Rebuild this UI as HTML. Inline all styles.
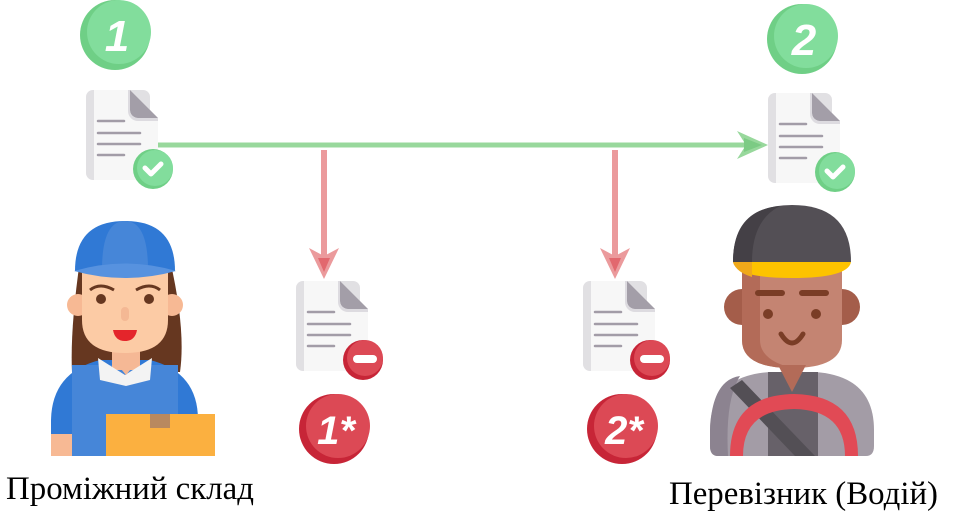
<!DOCTYPE html>
<html><head><meta charset="utf-8"><style>html,body{margin:0;padding:0;background:#fff;width:959px;height:521px;overflow:hidden}</style></head>
<body>
<svg width="959" height="521" viewBox="0 0 959 521" xmlns="http://www.w3.org/2000/svg">
<defs>
<g id="doc">
<rect x="0" y="0" width="64" height="90" rx="7" fill="#e1e0e3"/>
<path d="M8 0 H44 L72 28 V83 a7 7 0 0 1 -7 7 H8 a2 2 0 0 1 0 0 Z" fill="#f7f7f7"/>
<path d="M44 0 L72 28 H52 a8 8 0 0 1 -8 -8 Z" fill="#a39ea8"/>
<path d="M44 20 a8 8 0 0 0 8 8 H72 L72 31 H52 a10 10 0 0 1 -10 -10 V0 H44Z" fill="#dddbe0"/>
<g stroke="#a29ca7" stroke-width="2.5" stroke-linecap="round">
<line x1="12" y1="31" x2="38" y2="31"/><line x1="12" y1="43" x2="54" y2="43"/>
<line x1="12" y1="54" x2="54" y2="54"/><line x1="12" y1="65" x2="38" y2="65"/></g>
</g>
</defs>
<line x1="158" y1="145" x2="752" y2="145" stroke="#98d89c" stroke-width="5"/>
<path d="M737 131 L768 145 L737 159 L746 145Z" fill="#98d89c"/>
<path d="M744 138 L762 145 L744 152Z" fill="#7ccb84"/>
<g fill="#eb9a9c"><rect x="321" y="150" width="6" height="110"/><rect x="612" y="150" width="6" height="110"/>
<path d="M309 248 L324 279 L339 248 L324 256Z"/><path d="M600 248 L615 279 L630 248 L615 256Z"/></g>
<g fill="#e2686e"><path d="M318 258 L324 272 L330 258Z"/><path d="M609 258 L615 272 L621 258Z"/></g>
<use href="#doc" x="86" y="90"/>
<use href="#doc" x="768" y="93"/>
<use href="#doc" x="296" y="281"/>
<use href="#doc" x="583" y="281"/>
<g><circle cx="153" cy="169" r="20" fill="#6fcf86"/><circle cx="155" cy="168" r="18" fill="#82dd9c"/>
<path d="M145 168 l6 6 l10 -10" stroke="#fff" stroke-width="5" fill="none" stroke-linecap="round" stroke-linejoin="round"/></g>
<g><circle cx="835" cy="172" r="20" fill="#6fcf86"/><circle cx="837" cy="171" r="18" fill="#82dd9c"/>
<path d="M827 171 l6 6 l10 -10" stroke="#fff" stroke-width="5" fill="none" stroke-linecap="round" stroke-linejoin="round"/></g>
<g><circle cx="363" cy="360" r="20" fill="#c72537"/><circle cx="365" cy="358" r="18" fill="#dc4955"/>
<rect x="353" y="355" width="24" height="8" rx="4" fill="#fff"/></g>
<g><circle cx="650" cy="360" r="20" fill="#c72537"/><circle cx="652" cy="358" r="18" fill="#dc4955"/>
<rect x="640" y="355" width="24" height="8" rx="4" fill="#fff"/></g>
<g font-family="Liberation Sans, sans-serif" font-weight="bold" font-style="italic" fill="#fff" text-anchor="middle">
<circle cx="115" cy="35" r="35" fill="#6fcf86"/><circle cx="119" cy="32" r="32" fill="#82dd9c"/>
<text x="117" y="51" font-size="44">1</text>
<circle cx="802" cy="39" r="35" fill="#6fcf86"/><circle cx="806" cy="36" r="32" fill="#82dd9c"/>
<text x="804" y="55" font-size="44">2</text>
<circle cx="334" cy="429" r="35" fill="#c72537"/><circle cx="338" cy="426" r="32" fill="#dc4955"/>
<text x="336" y="444" font-size="40">1*</text>
<circle cx="622" cy="429" r="35" fill="#c72537"/><circle cx="626" cy="426" r="32" fill="#dc4955"/>
<text x="624" y="444" font-size="40">2*</text>
</g>
<path d="M80 260 Q70 330 72 372 L180 372 Q186 330 170 260Z" fill="#663720"/>
<path d="M51 456 V420 Q52 372 100 360 H150 Q198 372 198 420 V456Z" fill="#3079d5"/>
<rect x="72" y="365" width="106" height="91" fill="#4686d8"/>
<rect x="51" y="434" width="21" height="22" fill="#f7b994"/>
<rect x="112" y="340" width="28" height="30" fill="#f5b895"/>
<path d="M98 358 L125 375 L152 358 L150 380 L126 386 L100 380Z" fill="#f3f3f3"/>
<path d="M112 358 L126 375 L140 358Z" fill="#f5b895"/>
<circle cx="78" cy="305" r="11" fill="#f7b994"/><circle cx="172" cy="305" r="11" fill="#f7b994"/>
<path d="M82 270 H168 V320 Q168 353 125 353 Q82 353 82 320Z" fill="#fccba5"/>
<circle cx="101" cy="299" r="5" fill="#663720"/><circle cx="149" cy="299" r="5" fill="#663720"/>
<path d="M90 290 Q100 282 114 290 M136 290 Q150 282 160 290" stroke="#663720" stroke-width="3" fill="none"/>
<rect x="121" y="307" width="8" height="14" rx="4" fill="#f4b894"/>
<path d="M113 330 H137 Q135 341 125 341 Q115 341 113 330Z" fill="#e4252b"/>
<path d="M75 271 Q75 221 125 221 Q175 221 175 271 Z" fill="#3079d5"/>
<path d="M102 270 Q102 221 125 221 Q148 221 148 270Z" fill="#4686d8"/>
<path d="M74 271 Q125 256 176 271 Q125 285 74 271Z" fill="#5792df"/>
<rect x="106" y="414" width="109" height="42" fill="#fbb040"/>
<rect x="150" y="414" width="20" height="14" fill="#b9895f"/>
<circle cx="742" cy="307" r="18" fill="#a45d4a"/><circle cx="842" cy="307" r="18" fill="#a45d4a"/>
<path d="M710 446 V430 Q710 376 770 372 H815 Q874 376 874 430 V446 Q874 456 866 456 H718 Q710 456 710 446Z" fill="#a39ca6"/>
<path d="M710 446 V430 Q712 380 740 376 Q725 400 728 456 H718 Q710 456 710 446Z" fill="#8c8390"/>
<rect x="768" y="372" width="50" height="84" fill="#676169"/>
<path d="M742 262 H842 V340 Q842 368 792 368 Q742 368 742 340Z" fill="#c48472"/>
<path d="M742 262 H760 V340 Q760 360 792 368 Q742 368 742 340Z" fill="#b36b58"/>
<path d="M778 365 L792 392 L806 365Z" fill="#b36b58"/>
<circle cx="768" cy="314" r="5" fill="#7a3d26"/><circle cx="816" cy="314" r="5" fill="#7a3d26"/>
<path d="M758 293 H782 M802 293 H826" stroke="#7a3d26" stroke-width="6" stroke-linecap="round"/>
<path d="M781 334 Q792 352 803 334" stroke="#7a3d26" stroke-width="5" fill="none" stroke-linecap="round"/>
<path d="M733 262 Q733 205 792 205 Q851 205 851 262Z" fill="#534f55"/>
<path d="M733 262 Q733 210 780 206 Q752 220 752 262Z" fill="#444046"/>
<path d="M733 262 H851 Q848 278 792 278 Q736 278 733 262Z" fill="#fdc300"/>
<path d="M733 262 H752 V277 Q736 272 733 262Z" fill="#f0a91a"/>
<path d="M730 388 L742 380 L815 456 H795Z" fill="#534f55"/>
<path d="M730 456 Q730 395 794 394 Q858 395 858 456 H845 Q845 410 794 409 Q743 410 743 456Z" fill="#e14a55"/>
<g font-family="Liberation Serif, serif" font-size="33" fill="#000">
<text x="6" y="499" textLength="248" lengthAdjust="spacingAndGlyphs">Проміжний склад</text>
<text x="669" y="504" textLength="269" lengthAdjust="spacingAndGlyphs">Перевізник (Водій)</text>
</g>
</svg>
</body></html>
